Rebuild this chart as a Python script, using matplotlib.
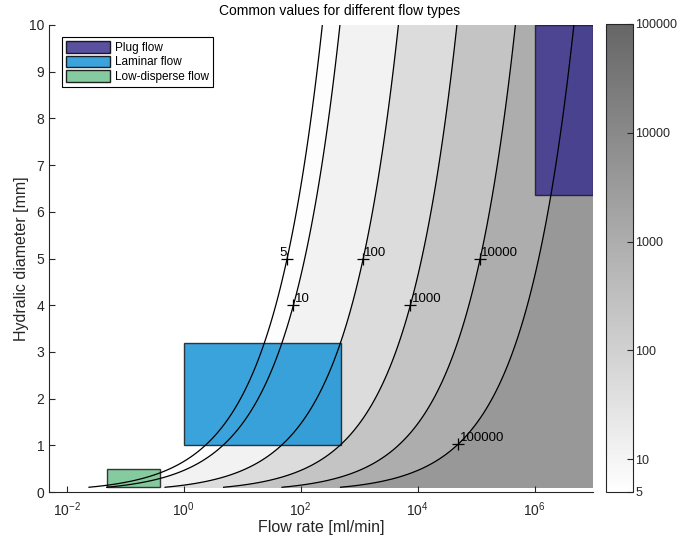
import numpy as np
import matplotlib.pyplot as plt
from matplotlib.colors import LogNorm, LinearSegmentedColormap
from matplotlib.patches import Rectangle
import matplotlib.cm as cm

plt.rcParams['font.family'] = ['Liberation Sans', 'DejaVu Sans']
plt.rcParams['mathtext.fontset'] = 'custom'
plt.rcParams['mathtext.rm'] = 'Liberation Sans'
plt.rcParams['mathtext.it'] = 'Liberation Sans'

# value = k * Q / d^2  (Q in ml/min, d in mm)
k = 2.122
levels = [5, 10, 100, 1000, 10000, 100000]
fill_colors = ['#fdfdfd', '#f2f2f2', '#dcdcdc', '#c4c4c4', '#adadad', '#989898']
label_d = [5, 4, 5, 4, 5, 1.03]

regions = ['Plug flow', 'Laminar flow', 'Low-disperse flow']
reg_q = [(1e6, 1e7), (1, 500), (0.05, 0.4)]
reg_d = [(6.35, 10), (1, 3.2), (0.1, 0.5)]
reg_colors = ['#3c338e', '#1893d6', '#71c28e']

Q = np.logspace(-3, 7, 800)
D = np.linspace(0.1, 10, 600)
QQ, DD = np.meshgrid(Q, D)
V = k * QQ / DD**2

fig = plt.figure(figsize=(6.79, 5.41), dpi=100)
ax = fig.add_axes([49/679, 1 - 492/541, 544/679, 467/541])
cax = fig.add_axes([605.5/679, 1 - 492/541, 27/679, 468/541])

ax.contourf(QQ, DD, V, levels=levels + [1e12], colors=fill_colors)
ax.contour(QQ, DD, V, levels=levels, colors='black', linewidths=0.9)

for lev, d in zip(levels, label_d):
    q = lev * d**2 / k
    ax.plot(q, d, marker='+', color='black', markersize=8, mew=0.9)
    if lev == 5:
        ax.text(q, d, str(lev), ha='right', va='bottom', fontsize=9.5)
    else:
        ax.text(q * 1.05, d, str(lev), ha='left', va='bottom', fontsize=9.5)

handles = []
for name, (q0, q1), (d0, d1), c in zip(regions, reg_q, reg_d, reg_colors):
    r = Rectangle((q0, d0), q1 - q0, d1 - d0, facecolor=c, alpha=0.85,
                  edgecolor='#1a1a1a', linewidth=1.0, label=name)
    ax.add_patch(r)
    handles.append(Rectangle((0, 0), 1, 1, facecolor=c, alpha=0.85,
                             edgecolor='black', linewidth=1.0, label=name))

ax.set_xscale('log')
ax.set_xlim(5e-3, 1e7)
ax.set_ylim(0, 10)
ax.set_xticks([1e-2, 1e0, 1e2, 1e4, 1e6])
ax.xaxis.set_minor_locator(plt.NullLocator())
ax.set_yticks(range(0, 11))
ax.tick_params(direction='in', labelsize=10, colors='#262626', length=4)
ax.tick_params(axis='x', pad=6)
for s in ['top', 'right']:
    ax.spines[s].set_visible(False)
for s in ['left', 'bottom']:
    ax.spines[s].set_color('#262626')

ax.set_xlabel('Flow rate [ml/min]', fontsize=11.5, color='#262626', labelpad=1)
ax.set_ylabel('Hydralic diameter [mm]', fontsize=11.5, color='#262626', labelpad=0)
ax.set_title('Common values for different flow types', fontsize=10,
             x=(340 - 49) / 544, color='black', pad=7)

leg = ax.legend(handles=handles, loc='upper left', bbox_to_anchor=(0.024, 0.974),
                borderaxespad=0, fontsize=8.5, fancybox=False, framealpha=1,
                edgecolor='black', handlelength=3.7, handleheight=1.1,
                labelspacing=0.15, borderpad=0.35, handletextpad=0.4)
leg.get_frame().set_linewidth(0.8)

cmap = LinearSegmentedColormap.from_list('grays', ['#ffffff', '#666666'])
sm = cm.ScalarMappable(norm=LogNorm(5, 1e5), cmap=cmap)
cb = fig.colorbar(sm, cax=cax)
cb.set_ticks([5, 10, 100, 1000, 10000, 100000])
cb.set_ticklabels(['5', '10', '100', '1000', '10000', '100000'])
cb.ax.minorticks_off()
cb.ax.tick_params(direction='in', labelsize=9, colors='#262626', length=4, pad=2)
cb.outline.set_edgecolor('#262626')

fig.savefig('out.png', dpi=100)
